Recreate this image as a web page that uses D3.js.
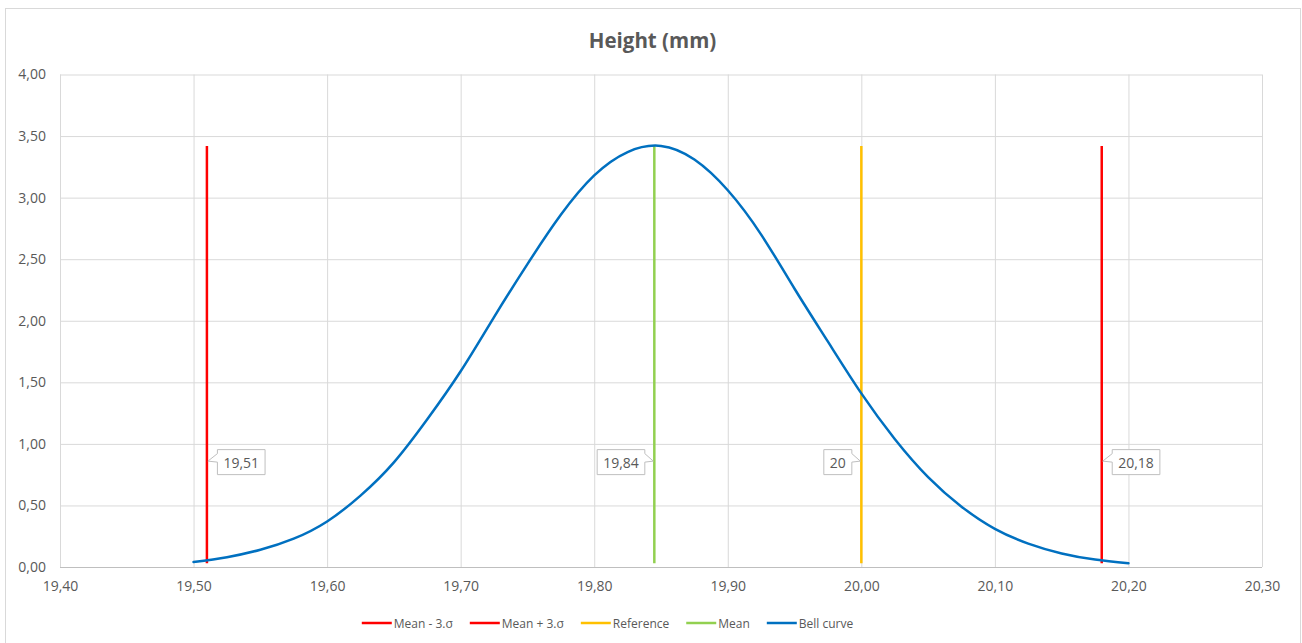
<!DOCTYPE html>
<html><head><meta charset="utf-8">
<script src="https://cdn.jsdelivr.net/npm/d3@7"></script>
<style>
html,body{margin:0;padding:0;background:#fff;}
svg{display:block;font-family:"Open Sans","Liberation Sans",sans-serif;}
</style></head>
<body><svg id="chart" width="1302" height="643"></svg>
<script>
// ---- data ----
const title = "Height (mm)";
const xTicks = [19.40,19.50,19.60,19.70,19.80,19.90,20.00,20.10,20.20,20.30];
const yTicks = [0,0.5,1,1.5,2,2.5,3,3.5,4];
const bellX = [19.500,19.525,19.550,19.575,19.600,19.625,19.650,19.675,19.700,19.725,19.750,19.775,19.800,19.825,19.850,19.875,19.900,19.925,19.950,19.975,20.000,20.025,20.050,20.075,20.100,20.125,20.150,20.175,20.200];
const bellY = [0.04,0.08,0.14,0.23,0.37,0.58,0.85,1.20,1.59,2.03,2.46,2.86,3.18,3.37,3.42,3.31,3.06,2.70,2.26,1.83,1.41,1.04,0.73,0.49,0.31,0.19,0.11,0.06,0.03];
const lineNames = ["Mean - 3.σ","Mean + 3.σ","Reference","Mean"];
const lineX = [19.51,20.18,20.00,19.845];
const lineLabels = ["19,51","20,18","20","19,84"];
const lineLabelSide = ["right","right","left","left"];
const lineColors = ["#FF0000","#FF0000","#FFC000","#92D050"];
const lineBottom = 0.03, lineTop = 3.42, labelAnchorY = 0.86;
const bellName = "Bell curve", bellColor = "#0070C0";

// ---- layout ----
const svg = d3.select("#chart");
const L = 60, R = 1262, T = 74.5, B = 567;
const x = d3.scaleLinear().domain([19.4,20.3]).range([L,R]);
const y = d3.scaleLinear().domain([0,4]).range([B,T]);
const fmt = v => d3.format(".2f")(v).replace(".", ",");
const txt = "#595959", grid = "#d9d9d9";

svg.append("rect").attr("x",5.5).attr("y",8.5).attr("width",1295).attr("height",640)
  .attr("fill","#fff").attr("stroke","#d9d9d9");

svg.append("text").attr("x",652.5).attr("y",48).attr("text-anchor","middle")
  .attr("font-size",20.5).attr("font-weight","bold").attr("fill",txt).text(title);

// grid
const gy = svg.append("g").attr("transform",`translate(${L},0)`)
  .call(d3.axisLeft(y).tickValues(yTicks).tickSize(-(R-L)).tickFormat(fmt).tickPadding(14));
gy.select(".domain").remove();
gy.selectAll("line").attr("stroke",grid);
gy.selectAll("text").attr("fill",txt).attr("font-size",14).attr("font-family","Open Sans");

const gx = svg.append("g").attr("transform",`translate(0,${B})`)
  .call(d3.axisBottom(x).tickValues(xTicks).tickSize(-(B-T)).tickFormat(fmt).tickPadding(14));
gx.select(".domain").remove();
gx.selectAll("line").attr("stroke",grid);
gx.selectAll("text").attr("fill",txt).attr("font-size",14).attr("font-family","Open Sans");
svg.append("line").attr("x1",L).attr("x2",R).attr("y1",B+0.5).attr("y2",B+0.5).attr("stroke","#bfbfbf");

// vertical lines
lineX.forEach((v,i)=>{
  svg.append("line").attr("x1",x(v)).attr("x2",x(v)).attr("y1",y(lineBottom)).attr("y2",y(lineTop))
    .attr("stroke",lineColors[i]).attr("stroke-width",2.5);
});

// bell curve
const pts = bellX.map((v,i)=>[v,bellY[i]]);
svg.append("path").datum(pts).attr("fill","none").attr("stroke",bellColor).attr("stroke-width",2.5)
  .attr("stroke-linecap","round")
  .attr("d",d3.line().x(d=>x(d[0])).y(d=>y(d[1])).curve(d3.curveNatural));

// callouts
lineX.forEach((v,i)=>{
  const tx = x(v), ty = y(labelAnchorY);
  const g = svg.append("g");
  const t = g.append("text").attr("font-size",14).attr("fill",txt).attr("dominant-baseline","central")
    .text(lineLabels[i]);
  const w = t.node().getComputedTextLength() + 12, h = 25;
  const top = ty - 11.5, bot = top + h;
  let path, textX;
  if (lineLabelSide[i]==="right"){
    const bl = tx + 10.5, br = bl + w;
    path = `M${bl},${top}H${br}V${bot}H${bl}V${ty+1}L${tx+1},${ty}L${bl},${top+4}Z`;
    textX = bl + 6;
  } else {
    const br = tx - 9.5, bl = br - w;
    path = `M${bl},${top}H${br}V${top+4}L${tx-1},${ty}L${br},${ty+1}V${bot}H${bl}Z`;
    textX = bl + 6;
  }
  g.insert("path","text").attr("d",path).attr("fill","#fff").attr("stroke","#bfbfbf");
  t.attr("x",textX).attr("y",top + h/2);
});

// legend
const legItems = lineNames.map((n,i)=>({n,c:lineColors[i]})).concat([{n:bellName,c:bellColor}]);
const legY = 623;
const lg = svg.append("g");
let cx = 0;
const gap = 17;
legItems.forEach(it=>{
  const g = lg.append("g").attr("transform",`translate(${cx},0)`);
  g.append("line").attr("x1",0).attr("x2",30).attr("y1",legY).attr("y2",legY).attr("stroke",it.c).attr("stroke-width",2.5);
  const t = g.append("text").attr("x",32).attr("y",legY).attr("dominant-baseline","central")
    .attr("font-size",12).attr("fill",txt).text(it.n);
  cx += 32 + t.node().getComputedTextLength() + gap;
});
const totalW = cx - gap;
lg.attr("transform",`translate(${359 + (856-359-totalW)/2},0)`);
</script></body></html>
